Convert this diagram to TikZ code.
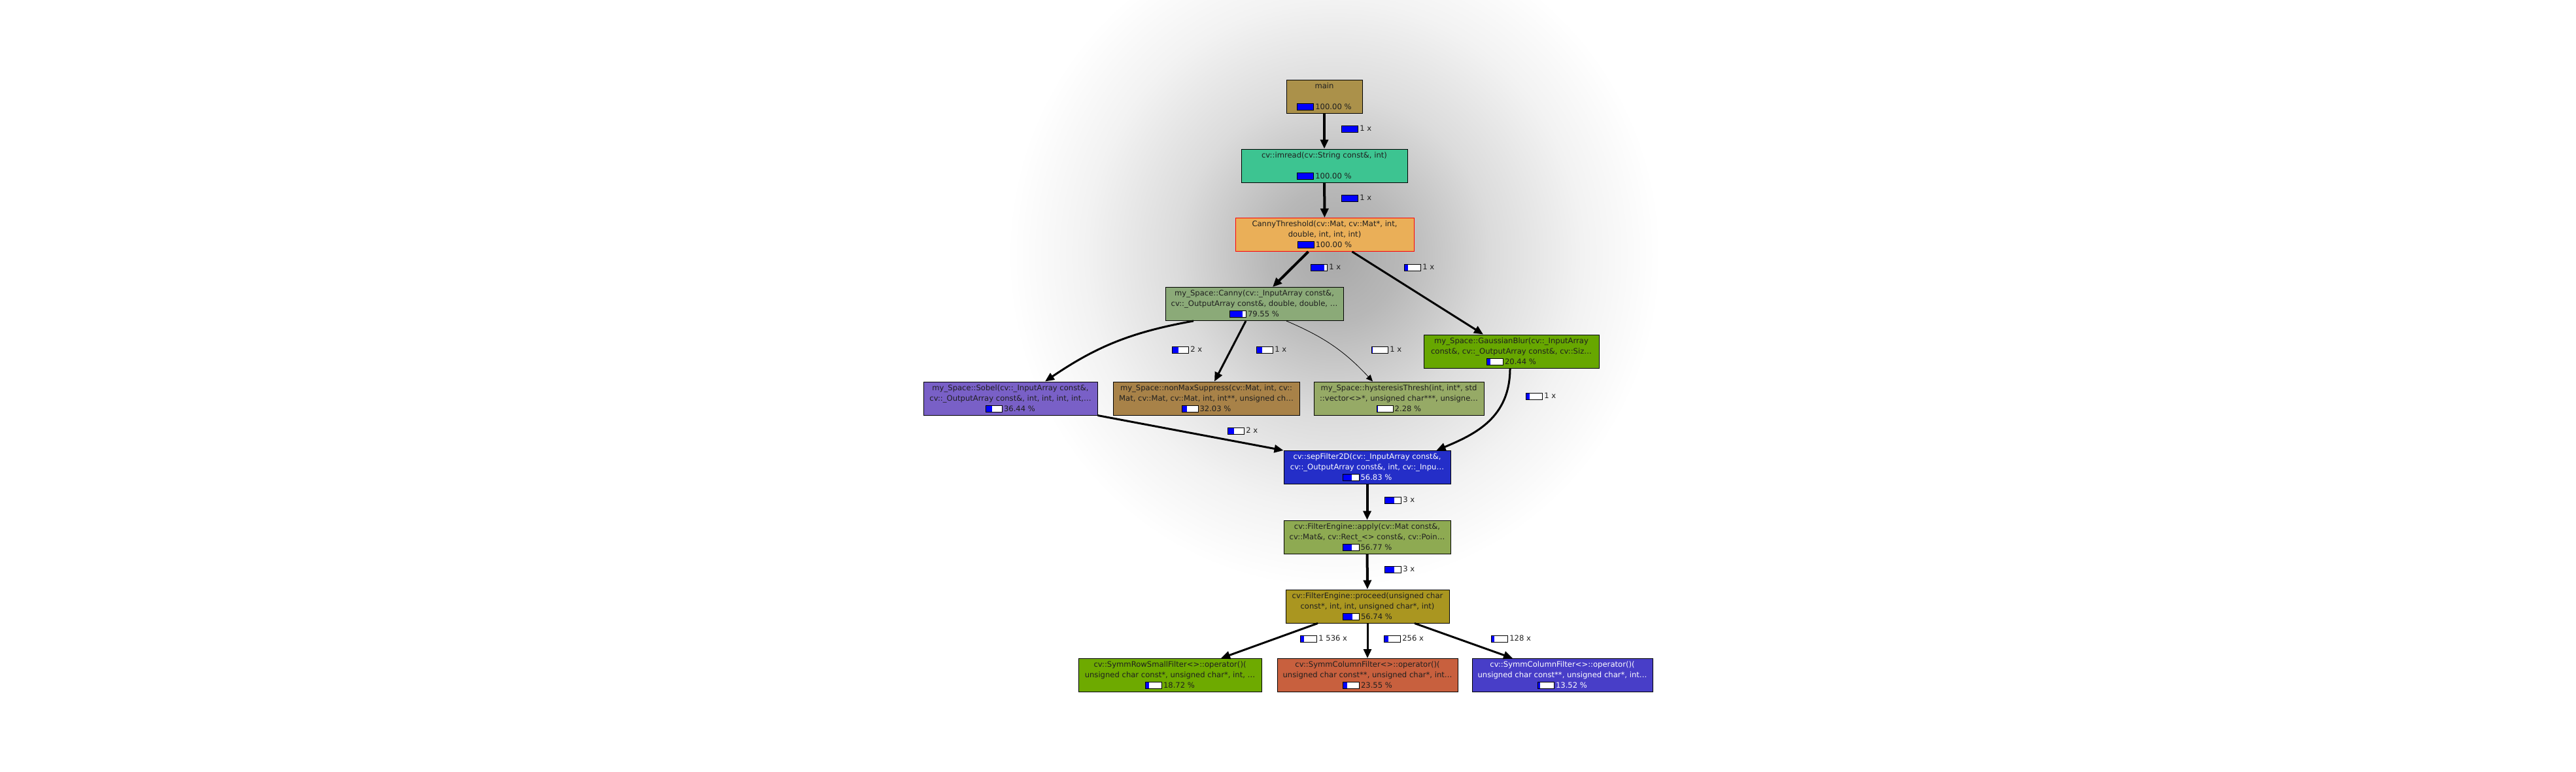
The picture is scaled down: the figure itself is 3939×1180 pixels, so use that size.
\documentclass[tikz,border=0pt]{standalone}
\usepackage{fontspec}
\setmainfont{DejaVu Sans}
\usetikzlibrary{arrows.meta,calc}
\definecolor{cMain}{RGB}{171,145,74}
\definecolor{cRead}{RGB}{61,196,145}
\definecolor{cThr}{RGB}{234,175,88}
\definecolor{cCanny}{RGB}{139,170,120}
\definecolor{cGauss}{RGB}{103,167,0}
\definecolor{cSobel}{RGB}{121,96,199}
\definecolor{cNms}{RGB}{168,130,72}
\definecolor{cHyst}{RGB}{150,170,102}
\definecolor{cSep}{RGB}{36,46,200}
\definecolor{cApply}{RGB}{142,170,82}
\definecolor{cProc}{RGB}{170,150,32}
\definecolor{cRow}{RGB}{110,170,0}
\definecolor{cCol}{RGB}{200,96,62}
\definecolor{cColB}{RGB}{72,62,200}
\pgfdeclareradialshading{glow}{\pgfpoint{0bp}{0bp}}{color(0bp)=(black!34); color(5bp)=(black!28); color(12bp)=(black!14); color(19bp)=(black!5); color(25bp)=(white); color(50bp)=(white)}
\newlength{\barw}\setlength{\barw}{12pt}
\newlength{\barh}\setlength{\barh}{4.5pt}
\newcommand{\costbar}[1]{{\setlength{\fboxsep}{0pt}\setlength{\fboxrule}{0.5pt}\raisebox{-0.4pt}{\fcolorbox{black}{white}{\makebox[\barw][l]{\textcolor{blue}{\rule{#1\barw}{\barh}}}}}}}

\begin{document}
\begin{tikzpicture}[x=0.5pt,y=-0.5pt,
  fn/.style={draw=black,line width=0.5pt,minimum height=25.5pt,inner sep=0pt,align=center,text=black!88,font=\fontsize{5.8}{8}\selectfont},
  lbl/.style={anchor=west,inner sep=0pt,text=black!88,font=\fontsize{5.8}{8}\selectfont},
  call/.style={-{Triangle[length=7pt,width=6pt]},line width=1.5pt},
  hot/.style={call,line width=2pt},
  cold/.style={-{Triangle[length=5pt,width=4.5pt]},line width=0.4pt}]
\useasboundingbox (0,0) rectangle (3939,1180);
\fill[white] (0,0) rectangle (3939,1180);
\begin{scope}
\clip (0,0) rectangle (3939,1180);
\shade[shading=glow] (2040,390) ellipse [x radius=250pt, y radius=255pt];
\end{scope}
\node[fn,fill=cMain,minimum width=58pt] (main) at (2025,147.5) {main\\\mbox{}\\\costbar{1}\,100.00 \%};
\node[fn,fill=cRead,minimum width=127pt] (imread) at (2025,253.5) {cv::imread(cv::String const\&, int)\\\mbox{}\\\costbar{1}\,100.00 \%};
\node[fn,fill=cThr,draw=red,minimum width=136.5pt] (thr) at (2025.5,359) {CannyThreshold(cv::Mat, cv::Mat*, int,\\double, int, int, int)\\\costbar{1}\,100.00 \%};
\node[fn,fill=cCanny,minimum width=136pt] (canny) at (1918,465) {my\_Space::Canny(cv::\_InputArray const\&,\\cv::\_OutputArray const\&, double, double, …\\\costbar{0.7955}\,79.55 \%};
\node[fn,fill=cGauss,minimum width=134pt] (gauss) at (2311,537.5) {my\_Space::GaussianBlur(cv::\_InputArray\\const\&, cv::\_OutputArray const\&, cv::Siz…\\\costbar{0.2044}\,20.44 \%};
\node[fn,fill=cSobel,minimum width=133pt] (sobel) at (1545,609.5) {my\_Space::Sobel(cv::\_InputArray const\&,\\cv::\_OutputArray const\&, int, int, int, int,…\\\costbar{0.3644}\,36.44 \%};
\node[fn,fill=cNms,minimum width=142.5pt] (nms) at (1844.5,609.5) {my\_Space::nonMaxSuppress(cv::Mat, int, cv::\\Mat, cv::Mat, cv::Mat, int, int**, unsigned ch…\\\costbar{0.3203}\,32.03 \%};
\node[fn,fill=cHyst,minimum width=130pt] (hyst) at (2139,609.5) {my\_Space::hysteresisThresh(int, int*, std\\::vector<>*, unsigned char***, unsigne…\\\costbar{0.0228}\,2.28 \%};
\node[fn,fill=cSep,text=white,minimum width=127.5pt] (sep) at (2090.5,715) {cv::sepFilter2D(cv::\_InputArray const\&,\\cv::\_OutputArray const\&, int, cv::\_Inpu…\\\costbar{0.5683}\,56.83 \%};
\node[fn,fill=cApply,minimum width=127.5pt] (apply) at (2090.5,821.5) {cv::FilterEngine::apply(cv::Mat const\&,\\cv::Mat\&, cv::Rect\_<> const\&, cv::Poin…\\\costbar{0.5677}\,56.77 \%};
\node[fn,fill=cProc,minimum width=125pt] (proc) at (2091,927.5) {cv::FilterEngine::proceed(unsigned char\\const*, int, int, unsigned char*, int)\\\costbar{0.5674}\,56.74 \%};
\node[fn,fill=cRow,minimum width=140pt] (row) at (1789,1033) {cv::SymmRowSmallFilter<>::operator()(\\unsigned char const*, unsigned char*, int, …\\\costbar{0.1872}\,18.72 \%};
\node[fn,fill=cCol,minimum width=138pt] (col) at (2091,1033) {cv::SymmColumnFilter<>::operator()(\\unsigned char const**, unsigned char*, int…\\\costbar{0.2355}\,23.55 \%};
\node[fn,fill=cColB,text=white,minimum width=138pt] (colb) at (2389,1033) {cv::SymmColumnFilter<>::operator()(\\unsigned char const**, unsigned char*, int…\\\costbar{0.1352}\,13.52 \%};
\draw[hot] (main) -- (imread);
\draw[hot] (imread) -- (thr);
\draw[hot] ($(thr.south)+(-25,0)$) -- ($(canny.north)+(28,0)$);
\draw[call] ($(thr.south)+(42,0)$) -- ($(gauss.north)+(-43,0)$);
\draw[call] ($(canny.south)+(-93,0)$) to[bend right=12] ($(sobel.north)+(53,0)$);
\draw[call] ($(canny.south)+(-13,0)$) -- ($(nms.north)+(12.5,0)$);
\draw[cold] ($(canny.south)+(49,0)$) to[bend left=12] ($(hyst.north)+(-40,0)$);
\draw[call] ($(gauss.south)+(-2,0)$) .. controls +(0,75) and +(60,-25) .. ($(sep.north)+(106,0)$);
\draw[call] (sobel.south east) -- (sep.north west);
\draw[hot] (sep) -- (apply);
\draw[hot] (apply) -- (proc);
\draw[call] ($(proc.south)+(-76,0)$) -- ($(row.north)+(78,0)$);
\draw[call] (proc) -- (col);
\draw[call] ($(proc.south)+(72,0)$) -- ($(colb.north)+(-76,0)$);
\node[lbl] (c1) at (2051,197) {\costbar{1}\,1 x};
\node[lbl] (c2) at (2051,303) {\costbar{1}\,1 x};
\node[lbl] (c3) at (2004,409) {\costbar{0.7955}\,1 x};
\node[lbl] (c4) at (2147,409) {\costbar{0.2044}\,1 x};
\node[lbl] (c5) at (1792,535) {\costbar{0.3644}\,2 x};
\node[lbl] (c6) at (1921,535) {\costbar{0.3203}\,1 x};
\node[lbl] (c7) at (2097,535) {\costbar{0.0228}\,1 x};
\node[lbl] (c8) at (2333,606) {\costbar{0.2044}\,1 x};
\node[lbl] (c9) at (1877,659) {\costbar{0.3644}\,2 x};
\node[lbl] (c10) at (2117,765) {\costbar{0.5677}\,3 x};
\node[lbl] (c11) at (2117,871) {\costbar{0.5674}\,3 x};
\node[lbl] (c12) at (1988,977) {\costbar{0.1872}\,1 536 x};
\node[lbl] (c13) at (2116,977) {\costbar{0.2355}\,256 x};
\node[lbl] (c14) at (2280,977) {\costbar{0.1352}\,128 x};
\end{tikzpicture}
\end{document}
